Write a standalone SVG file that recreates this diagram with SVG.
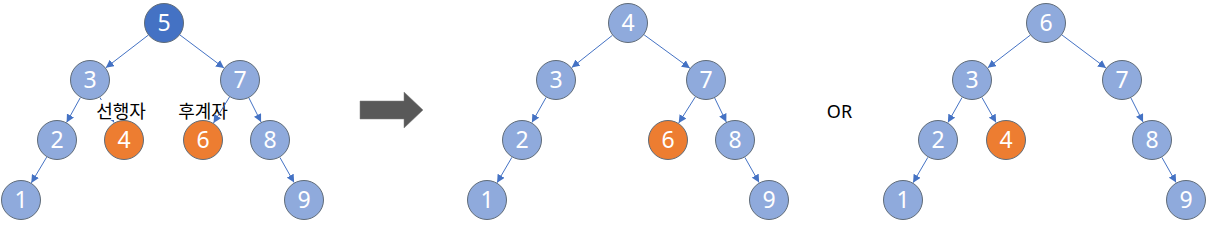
<svg xmlns="http://www.w3.org/2000/svg" width="1206" height="229" viewBox="0 0 1206 229">
<style>
.n{fill:#8FAADC;stroke:#5F6B78;stroke-width:1}
.root{fill:#4472C4;stroke:#5F6B78;stroke-width:1}
.o{fill:#ED7D31;stroke:#5F6B78;stroke-width:1}
.t{font-family:"Noto Sans","Liberation Sans",sans-serif;font-size:23px;fill:#FFFFFF;text-anchor:middle}
.k{font-family:"Noto Sans CJK KR","Noto Sans",sans-serif;font-size:18px;fill:#000000;text-anchor:middle}
.e line{stroke:#4472C4;stroke-width:1;marker-end:url(#ah)}
</style>
<defs>
<marker id="ah" markerUnits="userSpaceOnUse" markerWidth="9" markerHeight="8" refX="8" refY="4" orient="auto">
<path d="M0,0 L8,4 L0,8 z" fill="#4472C4"/>
</marker>
</defs>
<rect width="1206" height="229" fill="#FFFFFF"/>
<text id="label-successor" class="k" x="203" y="118">후계자</text>
<g id="connectors" class="e">
<line x1="148.2" y1="35.2" x2="105.8" y2="67.8"/>
<line x1="180" y1="35" x2="224" y2="68"/>
<line x1="80.4" y1="97.5" x2="66.6" y2="122.5"/>
<line x1="99.9" y1="97.4" x2="114.1" y2="122.6"/>
<line x1="229.5" y1="97" x2="213.5" y2="123"/>
<line x1="248.9" y1="97.9" x2="261.1" y2="122.1"/>
<line x1="46.7" y1="157.1" x2="31.3" y2="182.9"/>
<line x1="279.9" y1="157.4" x2="294.1" y2="182.6"/>
<line x1="612.3" y1="35.4" x2="571.7" y2="67.6"/>
<line x1="644.1" y1="34.8" x2="689.9" y2="68.2"/>
<line x1="546.1" y1="97.4" x2="531.9" y2="122.6"/>
<line x1="695.3" y1="96.9" x2="678.7" y2="123.1"/>
<line x1="714.7" y1="98" x2="726.3" y2="122"/>
<line x1="511.9" y1="157.3" x2="497.1" y2="182.7"/>
<line x1="744.9" y1="157.4" x2="759.1" y2="182.6"/>
<line x1="1030.2" y1="35.2" x2="987.8" y2="67.8"/>
<line x1="1062" y1="35" x2="1106" y2="68"/>
<line x1="962.1" y1="97.4" x2="947.9" y2="122.6"/>
<line x1="981.9" y1="97.4" x2="996.1" y2="122.6"/>
<line x1="1130.9" y1="97.9" x2="1143.1" y2="122.1"/>
<line x1="927.9" y1="157.3" x2="913.1" y2="182.7"/>
<line x1="1161.9" y1="157.4" x2="1176.1" y2="182.6"/>
</g>
<g id="label-predecessor">
<rect x="96" y="100" width="50" height="20" fill="#FFFFFF"/>
<text class="k" x="121" y="118">선행자</text>
</g>
<g id="t1-5"><circle class="root" cx="164" cy="23" r="19.5"/><text class="t" x="164" y="31">5</text></g>
<g id="t1-3"><circle class="n" cx="90" cy="80" r="19.5"/><text class="t" x="90" y="88">3</text></g>
<g id="t1-7"><circle class="n" cx="240" cy="80" r="19.5"/><text class="t" x="240" y="88">7</text></g>
<g id="t1-2"><circle class="n" cx="57" cy="140" r="19.5"/><text class="t" x="57" y="148">2</text></g>
<g id="t1-4"><circle class="o" cx="124" cy="140" r="19.5"/><text class="t" x="124" y="148">4</text></g>
<g id="t1-6"><circle class="o" cx="203" cy="140" r="19.5"/><text class="t" x="203" y="148">6</text></g>
<g id="t1-8"><circle class="n" cx="270" cy="140" r="19.5"/><text class="t" x="270" y="148">8</text></g>
<g id="t1-1"><circle class="n" cx="21" cy="200" r="19.5"/><text class="t" x="21" y="208">1</text></g>
<g id="t1-9"><circle class="n" cx="304" cy="200" r="19.5"/><text class="t" x="304" y="208">9</text></g>
<polygon id="big-arrow" points="360,101 404,101 404,92 423,110 404,128 404,119 360,119" fill="#595959" stroke="#7F7F7F" stroke-width="0.5"/>
<g id="t2-4"><circle class="n" cx="628" cy="23" r="19.5"/><text class="t" x="628" y="31">4</text></g>
<g id="t2-3"><circle class="n" cx="556" cy="80" r="19.5"/><text class="t" x="556" y="88">3</text></g>
<g id="t2-7"><circle class="n" cx="706" cy="80" r="19.5"/><text class="t" x="706" y="88">7</text></g>
<g id="t2-2"><circle class="n" cx="522" cy="140" r="19.5"/><text class="t" x="522" y="148">2</text></g>
<g id="t2-6"><circle class="o" cx="668" cy="140" r="19.5"/><text class="t" x="668" y="148">6</text></g>
<g id="t2-8"><circle class="n" cx="735" cy="140" r="19.5"/><text class="t" x="735" y="148">8</text></g>
<g id="t2-1"><circle class="n" cx="487" cy="200" r="19.5"/><text class="t" x="487" y="208">1</text></g>
<g id="t2-9"><circle class="n" cx="769" cy="200" r="19.5"/><text class="t" x="769" y="208">9</text></g>
<text id="or-label" x="839.5" y="118" font-family="Noto Sans, Liberation Sans, sans-serif" font-size="18" fill="#000000" text-anchor="middle">OR</text>
<g id="t3-6"><circle class="n" cx="1046" cy="23" r="19.5"/><text class="t" x="1046" y="31">6</text></g>
<g id="t3-3"><circle class="n" cx="972" cy="80" r="19.5"/><text class="t" x="972" y="88">3</text></g>
<g id="t3-7"><circle class="n" cx="1122" cy="80" r="19.5"/><text class="t" x="1122" y="88">7</text></g>
<g id="t3-2"><circle class="n" cx="938" cy="140" r="19.5"/><text class="t" x="938" y="148">2</text></g>
<g id="t3-4"><circle class="o" cx="1006" cy="140" r="19.5"/><text class="t" x="1006" y="148">4</text></g>
<g id="t3-8"><circle class="n" cx="1152" cy="140" r="19.5"/><text class="t" x="1152" y="148">8</text></g>
<g id="t3-1"><circle class="n" cx="903" cy="200" r="19.5"/><text class="t" x="903" y="208">1</text></g>
<g id="t3-9"><circle class="n" cx="1186" cy="200" r="19.5"/><text class="t" x="1186" y="208">9</text></g>
</svg>
